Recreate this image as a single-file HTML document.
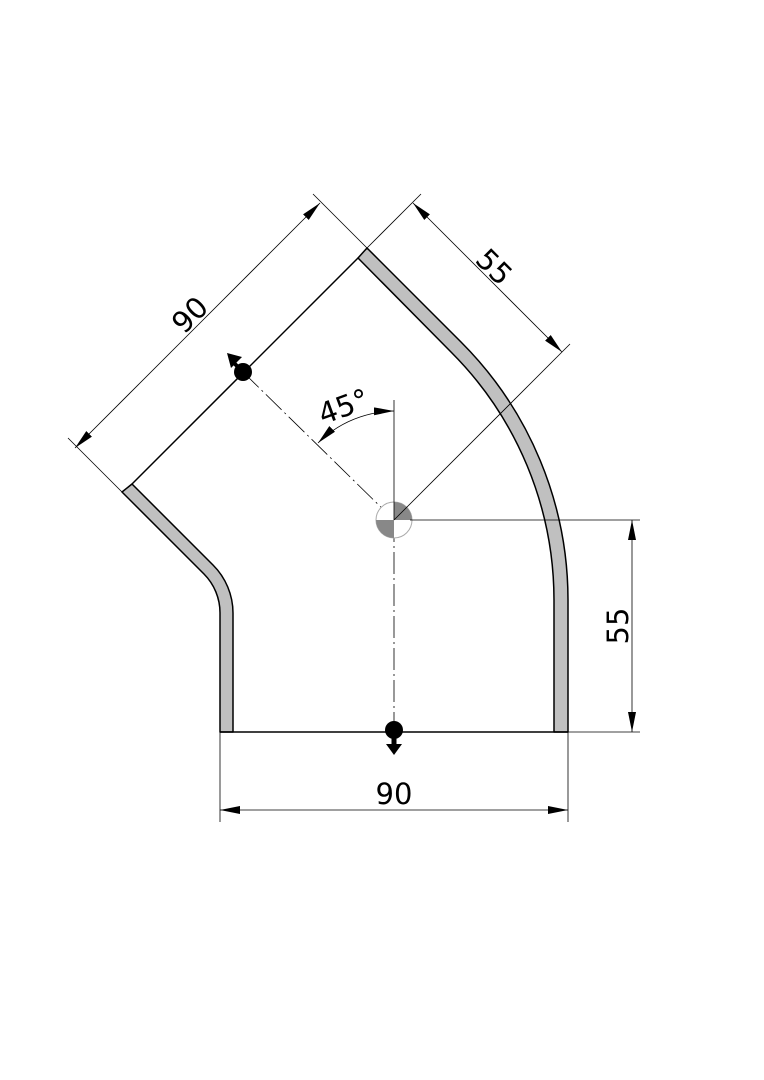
<!DOCTYPE html>
<html><head><meta charset="utf-8"><style>html,body{margin:0;padding:0;background:#fff}svg{display:block}</style></head>
<body>
<svg width="764" height="1080" viewBox="0 0 764 1080" xmlns="http://www.w3.org/2000/svg" font-family="DejaVu Sans, Liberation Sans, sans-serif">
<defs>
<marker id="ar" viewBox="0 0 20 8" refX="20" refY="4" markerWidth="20" markerHeight="8" markerUnits="userSpaceOnUse" orient="auto"><path d="M0,0 L20,4 L0,8 Z" fill="#000"/></marker>
</defs>
<!-- walls -->
<path d="M554,732 L568,732 L568,600 A365,365 0 0 0 461,342 L367,248 L358,258 L451,352 A351,351 0 0 1 554,600 Z" fill="#c0c0c0" stroke="#000" stroke-width="1.5" stroke-linejoin="round"/>
<path d="M220,732 L233,732 L233,613 A68,68 0 0 0 213,565 L132,484 L122,492 L204,574 A55,55 0 0 1 220,613 Z" fill="#c0c0c0" stroke="#000" stroke-width="1.5" stroke-linejoin="round"/>
<!-- faces -->
<line x1="220" y1="732" x2="568" y2="732" stroke="#000" stroke-width="1.5"/>
<line x1="358" y1="258" x2="132" y2="484" stroke="#000" stroke-width="1.5"/>
<!-- centre lines -->
<line x1="243" y1="372" x2="394" y2="520" stroke="#000" stroke-width="0.8" stroke-dasharray="22,4,2,4"/>
<line x1="394" y1="520" x2="394" y2="730" stroke="#000" stroke-width="0.8" stroke-dasharray="22,4,2,4"/>
<!-- centre symbol -->
<circle cx="394" cy="520" r="18" fill="#fff" stroke="#aaa" stroke-width="1"/>
<path d="M394,520 L394,502 A18,18 0 0 1 412,520 Z" fill="#888"/>
<path d="M394,520 L394,538 A18,18 0 0 1 376,520 Z" fill="#888"/>
<!-- dims lines -->
<g stroke="#000" stroke-width="0.8" fill="none">
<line x1="394" y1="400" x2="394" y2="520"/>
<line x1="410" y1="520" x2="640" y2="520"/>
<line x1="568" y1="732" x2="640" y2="732"/>
<line x1="394" y1="520" x2="570" y2="344"/>
<line x1="367" y1="248" x2="421" y2="194"/>
<line x1="367" y1="248" x2="313" y2="194"/>
<line x1="122" y1="492" x2="68" y2="438"/>
<line x1="220" y1="732" x2="220" y2="822"/>
<line x1="568" y1="732" x2="568" y2="822"/>
</g>
<g stroke="#000" stroke-width="0.8">
<line x1="394" y1="810" x2="220" y2="810" marker-end="url(#ar)"/>
<line x1="394" y1="810" x2="568" y2="810" marker-end="url(#ar)"/>
<line x1="632" y1="626" x2="632" y2="520" marker-end="url(#ar)"/>
<line x1="632" y1="626" x2="632" y2="732" marker-end="url(#ar)"/>
<line x1="198" y1="325" x2="320" y2="203" marker-end="url(#ar)"/>
<line x1="198" y1="325" x2="75" y2="448" marker-end="url(#ar)"/>
<line x1="488" y1="278" x2="413" y2="203" marker-end="url(#ar)"/>
<line x1="488" y1="278" x2="562" y2="352" marker-end="url(#ar)"/>
</g>
<path d="M360,417 A109,109 0 0 0 318,443" fill="none" stroke="#000" stroke-width="0.8" marker-end="url(#ar)"/>
<path d="M360,417 A109,109 0 0 1 394,411" fill="none" stroke="#000" stroke-width="0.8" marker-end="url(#ar)"/>
<!-- markers -->
<circle cx="243" cy="372" r="9" fill="#000"/>
<line x1="243" y1="372" x2="233" y2="362" stroke="#000" stroke-width="4"/>
<path d="M227,353 L242,357 L231,368 Z" fill="#000"/>
<circle cx="394" cy="730" r="9" fill="#000"/>
<line x1="394" y1="730" x2="394" y2="746" stroke="#000" stroke-width="5"/>
<path d="M386,744 L402,744 L394,755 Z" fill="#000"/>
<!-- text -->
<g font-size="29" fill="#000" text-anchor="middle">
<text x="394" y="804">90</text>
<text transform="translate(628,626) rotate(-90)">55</text>
<text transform="translate(197,322) rotate(-45)">90</text>
<text transform="translate(487,274) rotate(45)">55</text>
<text transform="translate(347,416) rotate(-20)">45°</text>
</g>
</svg>
</body></html>
